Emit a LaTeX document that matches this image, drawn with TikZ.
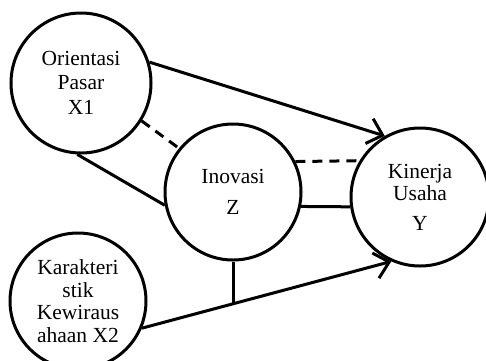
\documentclass[tikz,border=0pt]{standalone}
\usepackage{fontspec}
\setmainfont{Liberation Serif}
\usetikzlibrary{positioning,arrows.meta}

\begin{document}
\begin{tikzpicture}[main/.style = {draw, circle, line width=3pt, minimum size=138pt, inner sep=0pt, align=center, font=\fontsize{21.5}{22.5}\selectfont},
    link/.style = {line width=3pt},
    dashlink/.style = {line width=3pt, dash pattern=on 10pt off 7pt},
    arrowlink/.style = {line width=3pt, -{Straight Barb[length=14pt,width=26pt]}},
    on grid]
    \useasboundingbox (0,0) rectangle (486pt,-360pt);

    \node[main, minimum size=140pt] (x1) at (81pt,-83pt) {Orientasi\\[1pt]Pasar\\[3pt]X1};
    \node[main, minimum size=136pt] (z) [below right=109pt and 152pt of x1] {Inovasi\\[8pt]Z};
    \node[main] (y) [below right=5pt and 187pt of z] {Kinerja\\Usaha\\[7pt]Y};
    \node[main, minimum size=136pt] (x2) [below left=218pt and 3pt of x1] {Karakteri\\stik\\Kewiraus\\ahaan X2};

    \draw[arrowlink] (x1.17) -- (y.120);
    \draw[arrowlink] (x2.-23) -- coordinate[pos=0.367] (m) (y.246);
    \draw[link] (x1.-93) -- (z.191);
    \draw[dashlink] (x1.-32) -- (z.141);
    \draw[dashlink] (z.26) -- (y.149);
    \draw[link] (z.-12) -- (y.188);
    \draw[link] (z.south) -- (z.south |- m);
\end{tikzpicture}
\end{document}
